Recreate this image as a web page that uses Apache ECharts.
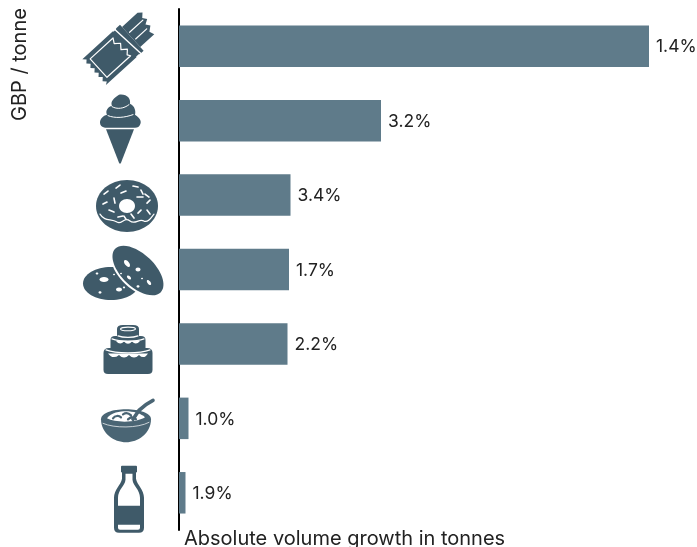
<!DOCTYPE html>
<html>
<head>
<meta charset="utf-8">
<style>html,body{margin:0;padding:0;background:#fff}#c{width:697px;height:547px}</style>
<script src="https://cdn.jsdelivr.net/npm/echarts@6/dist/echarts.min.js"></script>
</head>
<body>
<div id="c"></div>
<script>
// Product groups, top to bottom
const categories = ['Chocolate', 'Ice cream', 'Doughnuts', 'Biscuits', 'Cakes', 'Cereals', 'Dairy drinks'];
// Absolute volume growth in tonnes
const growthTonnes = [47000, 20200, 11150, 11000, 10850, 950, 650];
const growthLabels = ['1.4%', '3.2%', '3.4%', '1.7%', '2.2%', '1.0%', '1.9%'];
const xAxisTitle = 'Absolute volume growth in tonnes';
const yAxisTitle = 'GBP / tonne';

const BAR = '#5f7b8a';
const INK = '#3f5a69';
const FONT = 'Inter, "Open Sans", sans-serif';
const white = { fill: '#fff' };
const ink = { fill: INK };
const stroke = (w, c) => ({ fill: 'none', stroke: c || '#fff', lineWidth: w, lineCap: 'round', lineJoin: 'round' });

function path(d, style) {
  return { type: 'path', shape: { pathData: d }, style: style };
}
function ell(cx, cy, rx, ry, style, rot) {
  return { type: 'ellipse', x: cx, y: cy, rotation: rot || 0, originX: 0, originY: 0,
           shape: { cx: 0, cy: 0, rx: rx, ry: ry }, style: style };
}
function sprinkle(x1, y1, x2, y2, w) {
  return path('M' + x1 + ' ' + y1 + 'L' + x2 + ' ' + y2, stroke(w || 1.6));
}

// Each icon is a small drawing placed relative to the bar's start on the axis
const icons = [
  // Wrapped chocolate bar, bitten at the open end
  { dx: -66, dy: 8, rotation: 0.74, parts: [
    path('M-26 -17L-23 -14L-26 -11L-23 -8L-26 -5L-23 -2L-26 1L-23 4L-26 7L-23 10L-26 13L-23 16L-26 18L25 18L25 -17Z', ink),
    path('M-20 -12L11 -12L8 -7L13 -3L9 2L14 6L10 10L12 13L-20 13Z', stroke(1.2)),
    path('M16 -17L19 -17M16 18L19 18M18 -17L21 18', stroke(1.4)),
    path('M25 -14L46 -14L50 -11L46 -7L49 -3L44 0L47 4L42 8L44 13L25 13Z', ink),
    path('M27 -5L45 -5M27 4L42 4', stroke(1.2))
  ]},
  // Soft-serve cone
  { dx: -59, dy: 0, rotation: 0, parts: [
    path('M-14 8.5L14 8.5L1 42Q0 44 -1 42Z', ink),
    path('M-1 -26C7 -27 11 -22 10 -17C15 -15 16 -9 15 -6C20 -3 22 1 20 4Q19 7 15 7L-15 7Q-20 6 -20 2C-20 -2 -17 -5 -13 -6C-15 -10 -12 -14 -8 -15C-10 -19 -6 -23 -1 -26Z', ink),
    path('M-8 -14C-3 -11 4 -12 9 -16', stroke(1)),
    path('M-12 -5C-5 -2 5 -3 13 -6', stroke(1))
  ]},
  // Iced doughnut with sprinkles
  { dx: -52, dy: 11, rotation: 0, parts: [
    ell(0, 0, 31, 26, ink),
    path('M-27 8C-22 16 -16 12 -10 16C-5 19 -3 10 3 15C8 19 12 12 17 15C22 17 25 10 27 8', stroke(1.2)),
    ell(0, 0, 8, 7, white),
    sprinkle(-11, -18, -7, -21), sprinkle(-6, -13, -1, -15), sprinkle(6, -20, 11, -19),
    sprinkle(14, -16, 16, -12), sprinkle(18, -12, 22, -9), sprinkle(10, -9, 16, -9),
    sprinkle(20, -3, 23, -6), sprinkle(-23, -12, -19, -15), sprinkle(-13, -8, -12, -3),
    sprinkle(-24, -2, -20, -4), sprinkle(-18, 4, -13, 6), sprinkle(20, 4, 23, 8),
    sprinkle(11, 7, 14, 4), sprinkle(4, 8, 7, 12), sprinkle(-9, 11, -4, 10), sprinkle(-3, 10, -1, 13)
  ]},
  // Pair of chocolate-chip cookies
  { dx: -68, dy: 14, rotation: 0, parts: [
    ell(0, 0, 28, 16.5, ink),
    ell(-7, -4, 4.5, 2.5, white), ell(8, 6, 3, 2, white), ell(-14, -10, 1.3, 1, white),
    ell(-11, 9, 1.5, 1.2, white), ell(13, 4, 1.1, 0.9, white), ell(3, -9, 1, 0.8, white),
    ell(27, -13, 33, 18.5, white, -0.76),
    ell(27, -13, 31.5, 16.5, ink, -0.76),
    ell(16, -20, 4, 2.2, white, -0.9), ell(27, -14, 2.5, 2, white), ell(38, -1, 3, 1.5, white, -0.9),
    ell(18, -6, 2.5, 1.5, white, -0.78), ell(27, 3, 1.5, 1.2, white), ell(10, -10, 1, 0.8, white),
    ell(31, -5, 1, 0.8, white)
  ]},
  // Three-tier celebration cake
  { dx: -51, dy: 6, rotation: 0, parts: [
    path('M-11 -21Q-11 -25 -5 -25L5 -25Q11 -25 11 -21L11 -13L-11 -13Z', ink),
    path('M-17.5 -10Q-17.5 -14 -13 -14L13 -14Q17.5 -14 17.5 -10L17.5 -1L-17.5 -1Z', ink),
    path('M-24.5 3Q-24.5 -2 -19 -2L19 -2Q24.5 -2 24.5 3L24.5 20Q24.5 24 20 24L-20 24Q-24.5 24 -24.5 20Z', ink),
    ell(0, -21, 7.5, 1.8, stroke(1.1)),
    path('M-10 -14C-5 -12 5 -12 10 -14', stroke(1.2)),
    path('M-16 -11C-8 -8 8 -8 16 -11', stroke(1.3)),
    path('M-12 -9Q-8 -4 -4 -8.5Q0 -4 4 -8.5Q8 -4 12 -9Z', white),
    path('M-22 0C-12 4 12 4 22 0', stroke(1.3)),
    path('M-20 3.5Q-15 10 -9 5Q-4 10 1 5Q6 10 11 5Q16 10 20 3.5Z', white)
  ]},
  // Cereal bowl with spoon
  { dx: -53, dy: 7, rotation: 0, parts: [
    path('M-25 -6C-25 -12 -14 -16 0 -16C14 -16 25 -12 25 -6C25 8 12 17 0 17C-12 17 -25 8 -25 -6Z', { fill: '#4a6574' }),
    path('M-19 -7C-15 -13 -6 -14 0 -14C7 -14 15 -12 19 -8C12 -3 -10 -2 -19 -7Z', white),
    path('M-13 -7C-11 -10 -7 -10 -5 -8M-3 -11C0 -13 3 -12 5 -10M2 -6C5 -9 9 -8 10 -6', stroke(2.2, '#4a6574')),
    path('M7 -6L13 -15Q19 -21 27 -25', stroke(3.6, '#4a6574')),
    path('M-23 -2C-12 3 12 3 23 -3', stroke(0.7))
  ]},
  // Milk bottle with a dark label
  { dx: -50, dy: 5, rotation: 0, parts: [
    path('M-8 -31Q-8 -32 -7 -32L7 -32Q8 -32 8 -31L8 -26L7 -25L7 -19C8 -13 15 -8 15 0L15 30Q15 35 10 35L-10 35Q-15 35 -15 30L-15 0C-15 -8 -8 -13 -7 -19L-7 -25L-8 -26Z', ink),
    path('M-3.5 -24L3.5 -24L3.5 -18C4 -12 11 -8 11 0L11 8L-11 8L-11 0C-11 -8 -4 -12 -3.5 -18Z', white),
    path('M-11 27L11 27L11 30Q11 32 9 32L-9 32Q-11 32 -11 30Z', white)
  ]}
];

const chart = echarts.init(document.getElementById('c'), null, { renderer: 'canvas' });
chart.setOption({
  animation: false,
  backgroundColor: '#fff',
  grid: { left: 179, top: 9, width: 518, height: 521, containLabel: false },
  xAxis: { type: 'value', min: 0, max: 51800, show: false },
  yAxis: {
    type: 'category', inverse: true, data: categories,
    axisLine: { show: true, lineStyle: { color: '#000', width: 2 } },
    axisTick: { show: false }, axisLabel: { show: false }, splitLine: { show: false }
  },
  graphic: [
    { type: 'text', x: 184, y: 529, style: { text: xAxisTitle, font: '400 20px ' + FONT, fill: '#222' } },
    { type: 'text', x: 10, y: 121, rotation: Math.PI / 2, style: { text: yAxisTitle, font: '400 20px ' + FONT, fill: '#222' } }
  ],
  series: [
    {
      type: 'bar', data: growthTonnes, barWidth: 41.5, itemStyle: { color: BAR },
      label: {
        show: true, position: 'right', distance: 7, offset: [0, 1], color: '#222', fontFamily: FONT,
        fontWeight: 400, fontSize: 17.5, formatter: p => growthLabels[p.dataIndex]
      }
    },
    {
      type: 'custom', clip: false, z: 5, silent: true,
      data: categories.map((c, i) => [0, i]),
      encode: { x: 0, y: 1 },
      renderItem(params, api) {
        const p = api.coord([0, api.value(1)]);
        const icon = icons[params.dataIndex];
        return { type: 'group', children: [{
          type: 'group', x: p[0] + icon.dx, y: p[1] + icon.dy,
          rotation: icon.rotation, children: icon.parts
        }]};
      }
    }
  ]
});
</script>
</body>
</html>
